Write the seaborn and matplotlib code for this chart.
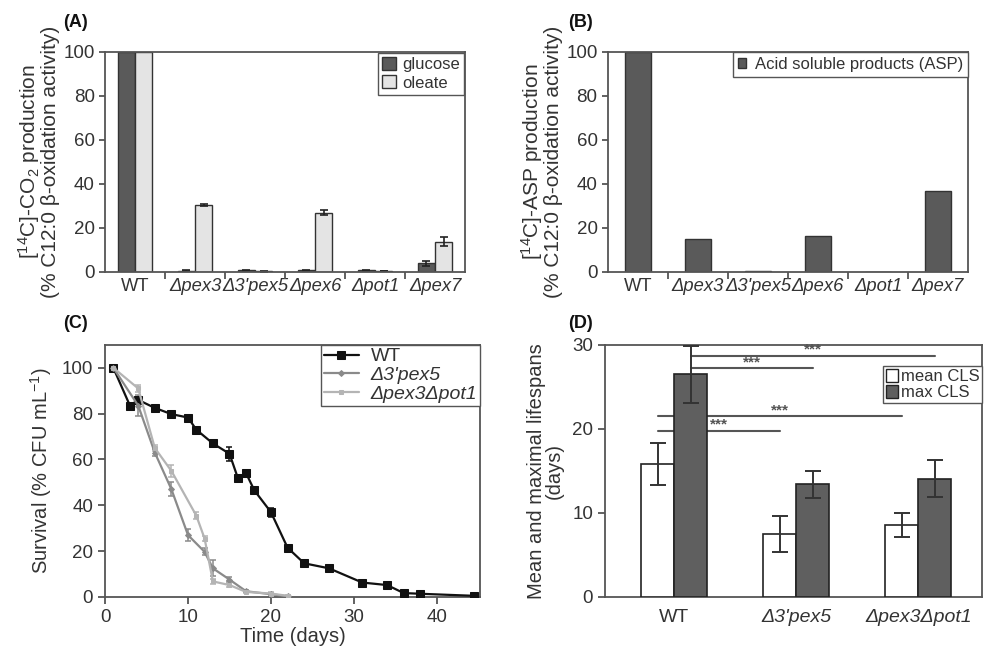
import pandas as pd
import seaborn as sns
import matplotlib.pyplot as plt
from matplotlib.patches import Patch

# ---- data ----
strains = ["WT", "Δpex3", "Δ3'pex5", "Δpex6", "Δpot1", "Δpex7"]
glucose = [100, 0.5, 0.7, 0.8, 0.7, 4.0]
glucose_err = [0, 0.2, 0.2, 0.3, 0.2, 1.2]
oleate = [100, 30.5, 0.3, 27.0, 0.4, 13.8]
oleate_err = [0, 0.3, 0.1, 1.3, 0.1, 2.0]
asp = [100, 15.0, 0.3, 16.5, 0.2, 37.0]

wt_days = [1, 3, 4, 6, 8, 10, 11, 13, 15, 16, 17, 18, 20, 22, 24, 27, 31, 34, 36, 38, 44.5]
wt_surv = [100, 83.5, 86, 82.5, 79.8, 78.3, 73, 67, 62.5, 52, 54, 46.5, 37, 21.5, 14.7,
           12.5, 6.3, 5.2, 1.7, 1.4, 0.5]
wt_err = [0.5, 1, 1, 0.8, 0.8, 1, 1, 0.8, 3, 1, 1, 1, 2, 1, 0.8, 1.5, 0.8, 1.5, 0.5, 0.3, 0.3]
pex5_days = [1, 4, 6, 8, 10, 12, 13, 15, 17, 20, 22]
pex5_surv = [100, 83.5, 63, 47, 27, 19.7, 12.5, 7.6, 2.5, 1.2, 0.3]
pex5_err = [0.5, 4.5, 1.5, 3, 2.5, 1.5, 3.5, 1, 0.5, 0.5, 0.3]
pot1_days = [1, 4, 6, 8, 11, 12, 13, 15, 17, 20, 22]
pot1_surv = [100, 91, 65, 55, 35.5, 25.5, 6.8, 5.2, 2.2, 1.5, 0.5]
pot1_err = [0.5, 1.5, 1.5, 2.5, 1.5, 1, 1, 1, 0.5, 0.5, 0.3]

cls_strains = ["WT", "Δ3'pex5", "Δpex3Δpot1"]
mean_cls = [15.8, 7.5, 8.6]
mean_err = [2.5, 2.1, 1.45]
max_cls = [26.5, 13.4, 14.1]
max_err = [3.4, 1.6, 2.15]
# significance bars: (series, from WT to strain index, height)
sig_series = ["max CLS", "max CLS", "mean CLS", "mean CLS"]
sig_to = [2, 1, 2, 1]
sig_height = [28.7, 27.2, 21.5, 19.8]

# ---- style ----
sns.set_style("ticks")
plt.rcParams["font.family"] = ["Liberation Sans", "DejaVu Sans"]
plt.rcParams["mathtext.fontset"] = "custom"
plt.rcParams["mathtext.rm"] = "Liberation Sans"
plt.rcParams["mathtext.it"] = "Liberation Sans:italic"
TXT = "#333333"
SPINE = "#555555"
DARK = "#5a5a5a"
LIGHT = "#e4e4e4"
plt.rcParams["text.color"] = TXT
plt.rcParams["axes.labelcolor"] = TXT
plt.rcParams["xtick.color"] = SPINE
plt.rcParams["ytick.color"] = SPINE
plt.rcParams["xtick.labelcolor"] = TXT
plt.rcParams["ytick.labelcolor"] = TXT
plt.rcParams["axes.edgecolor"] = SPINE
plt.rcParams["axes.linewidth"] = 1.3
FS_TICK = 13.5
FS_XT = 14
FS_LAB = 14.5

fig = plt.figure(figsize=(9.91, 6.53), dpi=100)
axA = fig.add_axes([0.106, 0.5835, 0.3633, 0.337])
axB = fig.add_axes([0.6135, 0.5835, 0.3633, 0.337])
axC = fig.add_axes([0.106, 0.0858, 0.3784, 0.386])
axD = fig.add_axes([0.6105, 0.0858, 0.3804, 0.386])


def style_groups(ax, labels):
    ax.set_xticks(range(len(labels)))
    ax.set_xticklabels(labels, fontsize=13.2)
    for t in ax.get_xticklabels()[1:]:
        t.set_fontstyle("italic")
    ax.set_xticks([i + 0.5 for i in range(len(labels) - 1)], minor=True)
    ax.tick_params(axis="x", which="major", length=0, pad=4)
    ax.tick_params(axis="x", which="minor", length=5, width=1.3, direction="out")
    ax.tick_params(axis="y", length=4, width=1.3, direction="out", labelsize=FS_TICK)
    ax.set_xlim(-0.5, len(labels) - 0.5)
    ax.set_ylim(0, 100)
    ax.set_yticks(range(0, 101, 20))
    ax.set_xlabel("")
    for s in ax.spines.values():
        s.set_visible(True)


# ---- (A) ----
dfA = pd.DataFrame({
    "strain": strains * 2,
    "value": glucose + oleate,
    "medium": ["glucose"] * len(strains) + ["oleate"] * len(strains),
})
sns.barplot(data=dfA, x="strain", y="value", hue="medium", palette=[DARK, LIGHT],
            width=0.58, edgecolor="#333333", linewidth=1.0, errorbar=None, ax=axA)
for cont, err in zip(axA.containers, [glucose_err, oleate_err]):
    xs = [p.get_x() + p.get_width() / 2 for p in cont]
    ys = [p.get_height() for p in cont]
    keep = [i for i, e in enumerate(err) if e > 0]
    axA.errorbar([xs[i] for i in keep], [ys[i] for i in keep], yerr=[err[i] for i in keep],
                 fmt="none", ecolor="#222222", elinewidth=1.2, capsize=3, capthick=1.2)
style_groups(axA, strains)
axA.set_ylabel("[$^{14}$C]-CO$_2$ production\n(% C12:0 β-oxidation activity)", fontsize=15,
               linespacing=0.95, labelpad=2)
axA.legend(handles=[Patch(facecolor=DARK, edgecolor="#333333", label="glucose"),
                    Patch(facecolor=LIGHT, edgecolor="#333333", label="oleate")],
           loc="upper right", borderaxespad=0.05, fontsize=12, handlelength=0.8,
           handleheight=0.8, handletextpad=0.4, borderpad=0.25, labelspacing=0.2,
           fancybox=False, framealpha=1, edgecolor=SPINE)

# ---- (B) ----
dfB = pd.DataFrame({"strain": strains, "value": asp})
sns.barplot(data=dfB, x="strain", y="value", color=DARK, width=0.42,
            edgecolor="#333333", linewidth=1.0, errorbar=None, ax=axB)
style_groups(axB, strains)
axB.set_ylabel("[$^{14}$C]-ASP production\n(% C12:0 β-oxidation activity)", fontsize=15,
               linespacing=0.95, labelpad=2)
axB.legend(handles=[Patch(facecolor=DARK, edgecolor="#333333",
                          label="Acid soluble products (ASP)")],
           loc="upper right", borderaxespad=0.0, fontsize=12, handlelength=0.5,
           handleheight=0.6, handletextpad=0.5, borderpad=0.3,
           fancybox=False, framealpha=1, edgecolor=SPINE)

# ---- (C) ----
series_c = [
    ("WT", wt_days, wt_surv, wt_err, "#111111", "s", 6),
    ("Δ3'pex5", pex5_days, pex5_surv, pex5_err, "#8a8a8a", "D", 3),
    ("Δpex3Δpot1", pot1_days, pot1_surv, pot1_err, "#b4b4b4", "s", 3.5),
]
for name, d, s, e, col, mk, ms in series_c:
    axC.errorbar(d, s, yerr=e, fmt="none", ecolor=col, elinewidth=1.1, capsize=2.5,
                 capthick=1.1, zorder=2)
    sns.lineplot(x=d, y=s, color=col, marker=mk, markersize=ms, markeredgecolor=col,
                 linewidth=1.6, label=name, ax=axC, zorder=3)
axC.set_xlim(0, 45.2)
axC.set_ylim(0, 110)
axC.set_xticks(range(0, 41, 10))
axC.set_yticks(range(0, 101, 20))
axC.tick_params(length=5, width=1.3, direction="out", labelsize=FS_TICK)
for s in axC.spines.values():
    s.set_visible(True)
axC.set_xlabel("Time (days)", fontsize=FS_LAB, labelpad=1)
axC.set_ylabel("Survival (% CFU mL$^{-1}$)", fontsize=FS_LAB, labelpad=6)
legC = axC.legend(loc="upper right", borderaxespad=0.0, fontsize=14, handlelength=1.8,
                  handletextpad=0.6, borderpad=0.15, labelspacing=0.05,
                  fancybox=False, framealpha=1, edgecolor=SPINE)
for t in legC.get_texts()[1:]:
    t.set_fontstyle("italic")

# ---- (D) ----
dfD = pd.DataFrame({
    "strain": cls_strains * 2,
    "days": mean_cls + max_cls,
    "kind": ["mean CLS"] * 3 + ["max CLS"] * 3,
})
sns.barplot(data=dfD, x="strain", y="days", hue="kind", palette=["white", "#5f5f5f"],
            width=0.54, edgecolor="#222222", linewidth=1.2, errorbar=None, ax=axD,
            zorder=3)
centers = {}
for cont, kind, err in zip(axD.containers, ["mean CLS", "max CLS"], [mean_err, max_err]):
    xs = [p.get_x() + p.get_width() / 2 for p in cont]
    ys = [p.get_height() for p in cont]
    centers[kind] = xs
    axD.errorbar(xs, ys, yerr=err, fmt="none", ecolor="#333333", elinewidth=1.4,
                 capsize=6, capthick=1.4, zorder=4)
for kind, to, h in zip(sig_series, sig_to, sig_height):
    x0, x1 = centers[kind][0], centers[kind][to]
    axD.plot([x0, x1], [h, h], color="#555555", linewidth=1.5, zorder=1)
    axD.text((x0 + x1) / 2, h - 0.1, "***", ha="center", va="bottom", fontsize=11,
             fontweight="bold", color="#555555", zorder=5)
axD.set_xlim(-0.565, 2.52)
axD.set_ylim(0, 30)
axD.set_yticks([0, 10, 20, 30])
axD.tick_params(axis="y", length=5, width=1.3, direction="out", labelsize=FS_TICK)
axD.tick_params(axis="x", length=0, pad=9, labelsize=FS_XT)
for t in axD.get_xticklabels()[1:]:
    t.set_fontstyle("italic")
for s in axD.spines.values():
    s.set_visible(True)
axD.set_xlabel("")
axD.set_ylabel("Mean and maximal lifespans\n(days)", fontsize=FS_LAB, linespacing=0.95,
               labelpad=6)
axD.legend(handles=[Patch(facecolor="white", edgecolor="#222222", label="mean CLS"),
                    Patch(facecolor="#5f5f5f", edgecolor="#222222", label="max CLS")],
           loc="upper right", bbox_to_anchor=(1.0, 0.915), borderaxespad=0.0,
           fontsize=12, handlelength=0.7, handleheight=0.8, handletextpad=0.2,
           borderpad=0.15, labelspacing=0.05, fancybox=False, framealpha=1,
           edgecolor=SPINE)

# panel letters
for x, y, lab in [(0.064, 0.965, "(A)"), (0.573, 0.965, "(B)"),
                  (0.064, 0.505, "(C)"), (0.573, 0.505, "(D)")]:
    fig.text(x, y, lab, fontsize=13, fontweight="bold", color="#111111", va="center")

fig.savefig("out.png", dpi=100)
